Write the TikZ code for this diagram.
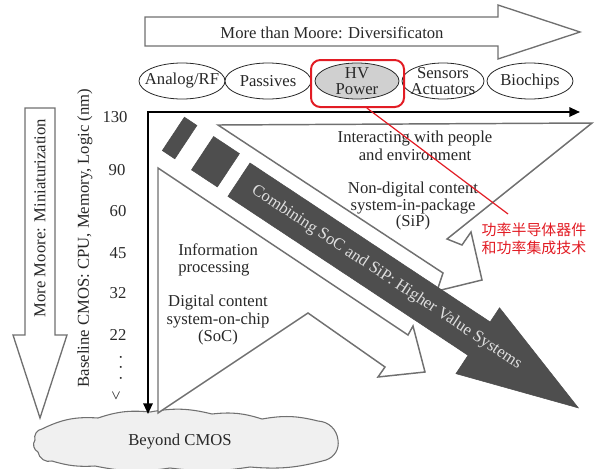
\documentclass[tikz,border=0pt]{standalone}
\usepackage{fontspec}
\setmainfont{Liberation Serif}
\newfontfamily\cjkfont{Noto Sans CJK SC}
\usetikzlibrary{arrows.meta,shapes.geometric}
\definecolor{outline}{RGB}{112,112,112}
\definecolor{darkband}{RGB}{78,78,78}
\definecolor{bandtext}{RGB}{222,222,222}
\definecolor{hvfill}{RGB}{208,208,208}
\definecolor{cloudfill}{RGB}{240,240,240}
\definecolor{markred}{RGB}{226,28,36}
\definecolor{ink}{RGB}{40,40,40}
\begin{document}
\begin{tikzpicture}[x=0.75pt,y=-0.75pt,
  lbl/.style={font=\fontsize{12.5}{13}\selectfont, text=ink, inner sep=0pt, align=center},
  hollow/.style={draw=outline, line width=1pt, fill=white, line join=miter},
  flow/.style={draw=outline, line width=1.1pt, fill=white, line join=miter},
  tech/.style={ellipse, draw=ink, line width=0.6pt, fill=white, minimum height=27pt, inner sep=0pt},
  techtext/.style={font=\fontsize{12.5}{12}\selectfont, text=ink, inner sep=0pt, align=center},
  darkpart/.style={fill=darkband, draw=black!70, line width=0.4pt},
  axisline/.style={draw=black, line width=1.5pt, {Triangle[length=8pt,width=7pt]}-{Triangle[length=8pt,width=7pt]}},
  cloudline/.style={draw=outline, line width=0.8pt, fill=cloudfill},
]
\useasboundingbox (0,0) rectangle (599,468);

% "More than Moore" hollow arrow
\draw[hollow] (145,17) -- (498,17) -- (498,5) -- (580,32) -- (498,59) -- (498,46) -- (145,46) -- cycle;
\node[lbl] (mtm) at (332,33) {More than Moore: Diversificaton};

% "More Moore" hollow arrow
\draw[hollow] (25,108) -- (55,108) -- (55,335) -- (67,335) -- (40,418) -- (13,335) -- (25,335) -- cycle;
\node[lbl, rotate=90] (mm) at (40,218) {More Moore: Miniaturization};

% technology ellipses
\node[tech, minimum width=64.5pt, label={[techtext]center:Analog/RF}] (analog) at (182,81) {};
\node[tech, minimum width=64.5pt, label={[techtext]center:Passives}] (passive) at (268,81) {};
\node[tech, fill=hvfill, minimum width=63pt, label={[techtext]center:HV\\Power}] (hv) at (357,81) {};
\node[tech, minimum width=61.5pt, label={[techtext]center:Sensors\\Actuators}] (sensor) at (443,81) {};
\node[tech, minimum width=64.5pt, label={[techtext]center:Biochips}] (bio) at (530,81) {};

% "Beyond CMOS" cloud
\draw[cloudline] (42,429) to[bend left=15] (98,418) to[bend left=12] (150,412)
  to[bend left=12] (212,414) to[bend left=12] (262,419) to[bend left=12] (318,421)
  to[bend left=40] (338,440) to[bend left=40] (326,460) to[bend left=10] (250,467)
  to[bend left=8] (170,468) to[bend left=10] (95,466) to[bend left=10] (52,461)
  to[bend left=50] (38,452) to[bend left=50] (35,440) to[bend left=50] (42,429) -- cycle;
\node[lbl] (beyond) at (180,442) {Beyond CMOS};

% node sizes axis labels
\node[lbl, rotate=90] (baseline) at (85,238) {Baseline CMOS: CPU, Memory, Logic (nm)};
\node[lbl] (n130) at (115,117) {130};
\node[lbl] (n90) at (117,170) {90};
\node[lbl] (n60) at (118,211) {60};
\node[lbl] (n45) at (118,253) {45};
\node[lbl] (n32) at (118,293) {32};
\node[lbl] (n22) at (118,335) {22};
\node[lbl, rotate=90, anchor=west] (nmore) at (117,401) {<\hspace{8pt}.\hspace{5pt}.\hspace{5pt}.};

% white arrows feeding the main band
\draw[flow] (158,168) -- (408,335) -- (413,326) -- (425,372) -- (378,377) -- (385,367)
  -- (308,313) -- (158,413) -- cycle;
\draw[flow] (218,125) -- (592,123) -- (447,239) -- (462,245) -- (471,232) -- (482,280)
  -- (437,291) -- (443,273) -- cycle;

% dark band along the diagonal
\begin{scope}[shift={(250,163)}, rotate=-33.5]
  \draw[darkpart] (-80,-2) -- (-65,-2) -- (-65,38) -- (-80,38) -- cycle;
  \draw[darkpart] (-45,-2) -- (-14,-2) -- (-14,38) -- (-45,38) -- cycle;
  \draw[darkpart] (0,0) -- (288,0) -- (288,-17) -- (409,23) -- (288,62) -- (288,40) -- (0,40) -- cycle;
  \node[lbl, text=bandtext, transform shape] (combo) at (177,20) {Combining SoC and SiP: Higher Value Systems};
\end{scope}

% region texts
\node[lbl, font=\fontsize{12.5}{13.5}\selectfont] (people) at (415,146) {Interacting with people\\and environment};
\node[lbl, font=\fontsize{12.5}{12.5}\selectfont] (sip) at (413,206) {Non-digital content\\system-in-package\\(SiP)};
\node[lbl, align=left, anchor=west] (info) at (178,260) {Information\\processing};
\node[lbl] (soc) at (218,320) {Digital content\\system-on-chip\\(SoC)};

% axes
\coordinate (corner) at (148,112);
\coordinate (xend) at (580,112);
\coordinate (yend) at (148,414);
\draw[axisline] (xend) -- (corner) -- (yend);

% highlight on HV power with note
\node[draw=markred, line width=1.5pt, rounded corners=7pt, minimum width=69.75pt,
  minimum height=35.25pt, inner sep=0pt] (hvmark) at (357.5,83.5) {};
\node[font=\cjkfont\fontsize{11.2}{13.5}\selectfont, text=markred, align=center, inner sep=0pt]
  (note) at (534,239) {功率半导体器件\\和功率集成技术};
\coordinate (notetip) at (508,214);
\draw[markred, line width=0.9pt] ([xshift=7pt]hvmark.south) -- (notetip);
\end{tikzpicture}
\end{document}
